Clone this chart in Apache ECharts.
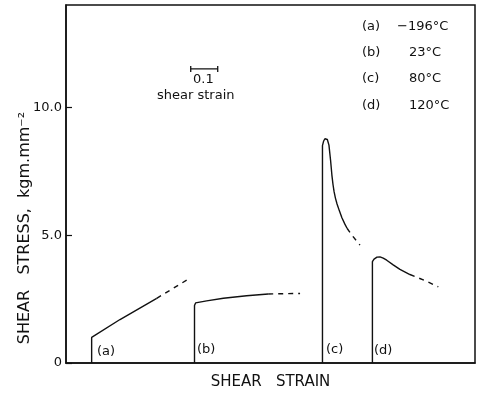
<!DOCTYPE html>
<html><head><meta charset="utf-8">
<script src="https://cdn.jsdelivr.net/npm/echarts@6/dist/echarts.min.js"></script>
<style>html,body{margin:0;background:#fff}#c{width:478px;height:395px}</style>
</head><body><div id="c"></div>
<script>
// y-axis ticks
const yTicks = [0, 5, 10];
const yTickLabels = ['0', '5.0', '10.0'];
// curve (a) -196°C  [shear strain, shear stress]
const curveA = [[0.095, 0], [0.095, 1.0], [0.20, 1.70], [0.336, 2.53]];
const curveADash = [[0.336, 2.53], [0.447, 3.24]];
// curve (b) 23°C
const curveB = [[0.476, 0], [0.476, 2.25], [0.480, 2.35], [0.521, 2.43], [0.583, 2.53], [0.669, 2.63], [0.749, 2.70]];
const curveBDash = [[0.749, 2.70], [0.867, 2.72]];
// curve (c) 80°C
const curveC = [[0.950, 0], [0.950, 8.50], [0.954, 8.67], [0.959, 8.77], [0.963, 8.79], [0.968, 8.74], [0.974, 8.52],
  [0.980, 7.93], [0.985, 7.34], [0.989, 6.98], [0.993, 6.70], [0.998, 6.45], [1.004, 6.22], [1.013, 5.94], [1.022, 5.68], [1.033, 5.43], [1.041, 5.27]];
const curveCDash = [[1.041, 5.27], [1.059, 5.00], [1.089, 4.61]];
// curve (d) 120°C
const curveD = [[1.135, 0], [1.135, 3.96], [1.141, 4.06], [1.152, 4.14], [1.163, 4.15], [1.175, 4.10], [1.188, 4.02], [1.212, 3.84], [1.237, 3.66], [1.274, 3.46]];
const curveDDash = [[1.274, 3.46], [1.326, 3.24], [1.379, 2.98]];
// scale bar (0.1 shear strain)
const scaleBar = [[0.462, 11.5], [0.562, 11.5]];
// labels
const curveLabels = ['(a)', '(b)', '(c)', '(d)'];
const legendNames = ['(a)', '(b)', '(c)', '(d)'];
const legendTemps = ['\u2212196\u00b0C', '23\u00b0C', '80\u00b0C', '120\u00b0C'];

const FONT = 'DejaVu Sans';
const solid = (d) => ({type: 'line', data: d, symbol: 'none', silent: true,
  lineStyle: {color: '#111', width: 1.4}});
const dashed = (d) => ({type: 'line', data: d, symbol: 'none', silent: true,
  lineStyle: {color: '#111', width: 1.4, type: [5, 5]}});

const chart = echarts.init(document.getElementById('c'));
const graphics = [];
const labelPos = [[97, 353], [197, 351], [326, 351], [374, 352]];
curveLabels.forEach((t, i) => graphics.push({type: 'text', left: labelPos[i][0], top: labelPos[i][1] - 8,
  style: {text: t, font: '13px ' + FONT, fill: '#111'}}));
const legY = [28, 54, 80, 107];
const legX = [397, 409, 409, 409];
legendNames.forEach((t, i) => {
  graphics.push({type: 'text', left: 362, top: legY[i] - 8, style: {text: t, font: '13px ' + FONT, fill: '#111'}});
  graphics.push({type: 'text', left: legX[i], top: legY[i] - 8, style: {text: legendTemps[i], font: '13px ' + FONT, fill: '#111'}});
});
graphics.push({type: 'text', left: 193, top: 73, style: {text: '0.1', font: '13px ' + FONT, fill: '#111'}});
graphics.push({type: 'text', left: 157, top: 89, style: {text: 'shear strain', font: '13px ' + FONT, fill: '#111'}});
graphics.push({type: 'text', x: 25, y: 228, rotation: Math.PI / 2,
  style: {text: 'SHEAR   STRESS,  kgm.mm\u207b\u00b2', font: '16px ' + FONT, fill: '#111', textAlign: 'center', textVerticalAlign: 'middle'}});

chart.setOption({
  animation: false,
  grid: {left: 66, top: 5, right: 3, bottom: 32, show: true, borderColor: '#111', borderWidth: 1.5, backgroundColor: 'transparent'},
  xAxis: {type: 'value', min: 0, max: 1.515, name: 'SHEAR   STRAIN', nameLocation: 'middle', nameGap: 12,
    nameTextStyle: {fontFamily: FONT, fontSize: 15, color: '#111', verticalAlign: 'top'},
    axisLine: {lineStyle: {color: '#111', width: 1.5}}, axisTick: {show: false}, axisLabel: {show: false}, splitLine: {show: false}},
  yAxis: {type: 'value', min: 0, max: 14, interval: 5,
    axisLine: {show: true, lineStyle: {color: '#111', width: 1.5}},
    axisTick: {show: true, inside: true, length: 6, lineStyle: {color: '#111', width: 1.2}},
    axisLabel: {margin: 4, fontFamily: FONT, fontSize: 13, color: '#111', showMaxLabel: false,
      formatter: v => { const k = yTicks.indexOf(v); return k >= 0 ? yTickLabels[k] : ''; }},
    splitLine: {show: false}},
  series: [
    solid(curveA), dashed(curveADash),
    solid(curveB), dashed(curveBDash),
    solid(curveC), dashed(curveCDash),
    solid(curveD), dashed(curveDDash),
    {type: 'line', data: scaleBar, silent: true, symbol: 'rect', symbolSize: [1.3, 6], itemStyle: {color: '#111'},
      lineStyle: {color: '#111', width: 1.3}}
  ],
  graphic: graphics
});
</script>
</body></html>
